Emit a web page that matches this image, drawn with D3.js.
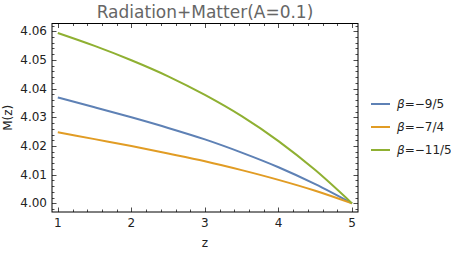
<!DOCTYPE html>
<html>
<head>
<meta charset="utf-8">
<script src="https://cdn.jsdelivr.net/npm/d3@7"></script>
<style>
  body { margin: 0; background: #fff; }
  svg { display: block; font-family: "DejaVu Sans", sans-serif; }
</style>
</head>
<body>
<svg id="chart" width="451" height="254"></svg>
<script>
// values
var zValues = [1, 1.5, 2, 2.5, 3, 3.5, 4, 4.5, 5];
var beta95 = [4.0369, 4.0335, 4.0300, 4.0263, 4.0223, 4.0177, 4.0126, 4.0067, 4.0000];
var beta74 = [4.0248, 4.0224, 4.0200, 4.0174, 4.0147, 4.0116, 4.0082, 4.0044, 4.0000];
var beta115 = [4.0594, 4.0549, 4.0499, 4.0443, 4.0378, 4.0304, 4.0217, 4.0116, 4.0000];
var seriesNames = ["\u22129/5", "\u22127/4", "\u221211/5"];
var seriesColors = ["#5E81B5", "#E19C24", "#8FB032"];
var xTicks = [1, 2, 3, 4, 5];
var yTicks = [4.00, 4.01, 4.02, 4.03, 4.04, 4.05, 4.06];

var series = [beta95, beta74, beta115];

var margin = { top: 23.5, right: 93, bottom: 42, left: 52 };
var width = 451, height = 254;

var svg = d3.select("#chart");

var x = d3.scaleLinear()
	.domain([0.921, 5.081])
	.range([margin.left, width - margin.right]);

var y = d3.scaleLinear()
	.domain([3.997, 4.0627])
	.range([height - margin.bottom, margin.top]);

var x0 = margin.left, x1 = width - margin.right;
var y0 = height - margin.bottom, y1 = margin.top;

// minor ticks
var xMinor = d3.range(1, 5.0001, 0.2).filter(function(v) {
	return xTicks.indexOf(Math.round(v * 1000) / 1000) < 0;
});
var yMinor = d3.range(3.998, 4.0621, 0.002).filter(function(v) {
	return Math.abs(Math.round(v * 100) - v * 100) > 0.01;
});

var tickG = svg.append("g").attr("stroke", "#000").attr("stroke-width", 0.7);

function drawTicks(values, len, isX) {
	values.forEach(function(v) {
		if (isX) {
			var px = Math.round(x(v)) + 0.5;
			tickG.append("line").attr("x1", px).attr("x2", px).attr("y1", y0).attr("y2", y0 - len);
			tickG.append("line").attr("x1", px).attr("x2", px).attr("y1", y1).attr("y2", y1 + len);
		} else {
			var py = Math.round(y(v)) + 0.5;
			tickG.append("line").attr("x1", x0).attr("x2", x0 + len).attr("y1", py).attr("y2", py);
			tickG.append("line").attr("x1", x1).attr("x2", x1 - len).attr("y1", py).attr("y2", py);
		}
	});
}
drawTicks(xTicks, 4.5, true);
drawTicks(xMinor, 2.5, true);
drawTicks(yTicks, 4.5, false);
drawTicks(yMinor, 2.5, false);

// frame
svg.append("rect")
	.attr("x", x0).attr("y", y1)
	.attr("width", x1 - x0).attr("height", y0 - y1)
	.attr("fill", "none")
	.attr("stroke", "#000")
	.attr("stroke-width", 1);

// tick labels
svg.append("g")
	.selectAll("text")
	.data(xTicks)
	.enter().append("text")
	.attr("x", function(d) { return x(d); })
	.attr("y", y0 + 15)
	.attr("text-anchor", "middle")
	.attr("font-size", 12)
	.attr("fill", "#222")
	.text(function(d) { return d; });

svg.append("g")
	.selectAll("text")
	.data(yTicks)
	.enter().append("text")
	.attr("x", x0 - 5)
	.attr("y", function(d) { return y(d) + 4; })
	.attr("text-anchor", "end")
	.attr("font-size", 12)
	.attr("fill", "#222")
	.text(function(d) { return d.toFixed(2); });

// curves
var line = d3.line()
	.x(function(d, i) { return x(zValues[i]); })
	.y(function(d) { return y(d); })
	.curve(d3.curveMonotoneX);

svg.append("g")
	.attr("fill", "none")
	.attr("stroke-width", 2)
	.selectAll("path")
	.data(series)
	.enter().append("path")
	.attr("stroke", function(d, i) { return seriesColors[i]; })
	.attr("d", line);

// title and axis labels
svg.append("text")
	.attr("x", (x0 + x1) / 2)
	.attr("y", 18)
	.attr("text-anchor", "middle")
	.attr("font-size", 17)
	.attr("fill", "#666")
	.text("Radiation+Matter(A=0.1)");

svg.append("text")
	.attr("x", (x0 + x1) / 2)
	.attr("y", 247)
	.attr("text-anchor", "middle")
	.attr("font-size", 12)
	.attr("fill", "#222")
	.text("z");

svg.append("text")
	.attr("transform", "translate(12," + ((y0 + y1) / 2) + ") rotate(-90)")
	.attr("text-anchor", "middle")
	.attr("font-size", 12)
	.attr("fill", "#222")
	.text("M(z)");

// legend
var legend = svg.append("g")
	.selectAll("g")
	.data(seriesNames)
	.enter().append("g")
	.attr("transform", function(d, i) { return "translate(371," + (104 + i * 23) + ")"; });

legend.append("line")
	.attr("x1", 0).attr("x2", 19)
	.attr("stroke-width", 2)
	.attr("stroke", function(d, i) { return seriesColors[i]; });

var lt = legend.append("text")
	.attr("x", 26)
	.attr("y", 4)
	.attr("font-size", 12)
	.attr("fill", "#222");
lt.append("tspan").attr("font-style", "italic").text("\u03B2");
lt.append("tspan").text(function(d) { return "=" + d; });
</script>
</body>
</html>
